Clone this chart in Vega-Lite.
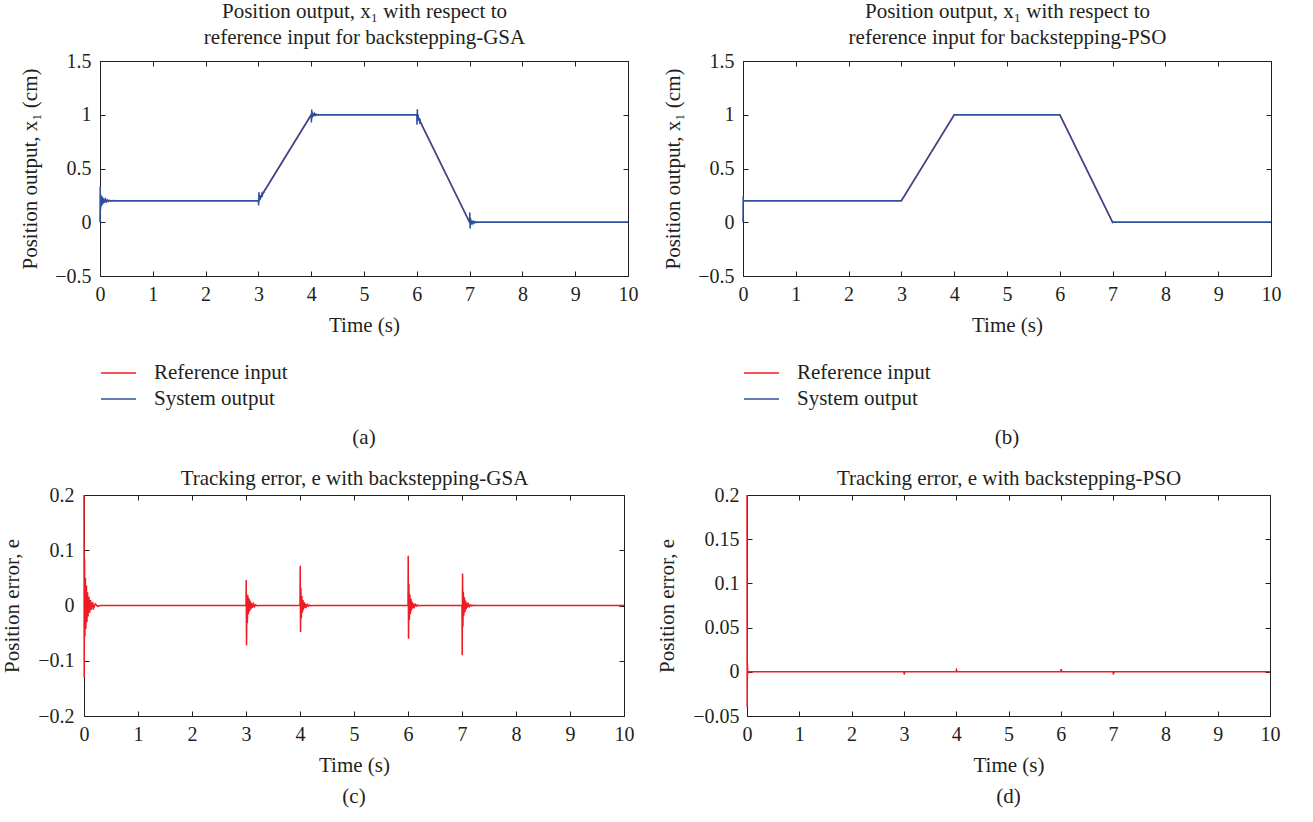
{
  "$schema": "https://vega.github.io/schema/vega-lite/v6.json",
  "background": "white",
  "padding": {"left": 0, "top": 0, "right": 5, "bottom": 5},
  "config": {
    "font": "Liberation Serif",
    "view": {"stroke": "#231f20", "strokeWidth": 1},
    "axis": {
      "grid": false,
      "domain": false,
      "domainColor": "#231f20",
      "domainWidth": 1,
      "labelFont": "Liberation Serif",
      "labelFontSize": 20,
      "labelColor": "#231f20",
      "labelFlush": false,
      "titleFont": "Liberation Serif",
      "titleFontSize": 21,
      "titleFontWeight": "normal",
      "titleColor": "#231f20",
      "titleLineHeight": 26,
      "tickColor": "#231f20",
      "tickSize": -5,
      "tickWidth": 1,
      "format": "~r"
    },
    "title": {"font": "Liberation Serif", "fontSize": 21, "fontWeight": "normal", "color": "#231f20", "anchor": "middle", "frame": "group"},
    "legend": {
      "labelFont": "Liberation Serif",
      "labelFontSize": 21,
      "labelColor": "#231f20",
      "symbolType": "stroke",
      "symbolSize": 1225,
      "symbolStrokeWidth": 1.5,
      "labelOffset": 17,
      "clipHeight": 26,
      "rowPadding": 0,
      "padding": 0
    }
  },
  "datasets": {
    "ref": [
      {"t": 0, "x": 0.2}, {"t": 3, "x": 0.2}, {"t": 4, "x": 1}, {"t": 6, "x": 1}, {"t": 7, "x": 0}, {"t": 10, "x": 0}
    ],
    "gsa": [
      {"t": 0, "x": 0, "e": 0.2},
      {"t": 0.004, "x": 0.33, "e": -0.13},
      {"t": 0.01, "x": 0.116, "e": 0.084},
      {"t": 0.017, "x": 0.256, "e": -0.056},
      {"t": 0.025, "x": 0.15, "e": 0.05},
      {"t": 0.035, "x": 0.242, "e": -0.042},
      {"t": 0.045, "x": 0.164, "e": 0.036},
      {"t": 0.055, "x": 0.23, "e": -0.03},
      {"t": 0.065, "x": 0.176, "e": 0.024},
      {"t": 0.075, "x": 0.22, "e": -0.02},
      {"t": 0.09, "x": 0.184, "e": 0.016},
      {"t": 0.105, "x": 0.213, "e": -0.013},
      {"t": 0.12, "x": 0.19, "e": 0.01},
      {"t": 0.14, "x": 0.208, "e": -0.008},
      {"t": 0.16, "x": 0.194, "e": 0.006},
      {"t": 0.18, "x": 0.2045, "e": -0.0045},
      {"t": 0.21, "x": 0.197, "e": 0.003},
      {"t": 0.25, "x": 0.2015, "e": -0.0015},
      {"t": 0.3, "x": 0.2, "e": 0},
      {"t": 3, "x": 0.2, "e": 0},
      {"t": 3.004, "x": 0.1572, "e": 0.046},
      {"t": 3.01, "x": 0.28, "e": -0.072},
      {"t": 3.017, "x": 0.1936, "e": 0.02},
      {"t": 3.025, "x": 0.252, "e": -0.032},
      {"t": 3.035, "x": 0.21, "e": 0.018},
      {"t": 3.045, "x": 0.252, "e": -0.016},
      {"t": 3.055, "x": 0.231, "e": 0.013},
      {"t": 3.065, "x": 0.263, "e": -0.011},
      {"t": 3.075, "x": 0.251, "e": 0.009},
      {"t": 3.09, "x": 0.279, "e": -0.007},
      {"t": 3.105, "x": 0.279, "e": 0.005},
      {"t": 3.12, "x": 0.3, "e": -0.004},
      {"t": 3.14, "x": 0.309, "e": 0.003},
      {"t": 3.16, "x": 0.33, "e": -0.002},
      {"t": 3.18, "x": 0.3428, "e": 0.0012},
      {"t": 3.21, "x": 0.3686, "e": -0.0006},
      {"t": 3.25, "x": 0.4, "e": 0},
      {"t": 4, "x": 1, "e": 0},
      {"t": 4.004, "x": 0.928, "e": 0.072},
      {"t": 4.01, "x": 1.048, "e": -0.048},
      {"t": 4.017, "x": 0.969, "e": 0.031},
      {"t": 4.025, "x": 1.023, "e": -0.023},
      {"t": 4.035, "x": 0.983, "e": 0.017},
      {"t": 4.045, "x": 1.013, "e": -0.013},
      {"t": 4.055, "x": 0.99, "e": 0.01},
      {"t": 4.065, "x": 1.008, "e": -0.008},
      {"t": 4.075, "x": 0.994, "e": 0.006},
      {"t": 4.09, "x": 1.0045, "e": -0.0045},
      {"t": 4.105, "x": 0.9967, "e": 0.0033},
      {"t": 4.12, "x": 1.0024, "e": -0.0024},
      {"t": 4.14, "x": 0.9984, "e": 0.0016},
      {"t": 4.16, "x": 1.001, "e": -0.001},
      {"t": 4.18, "x": 0.9994, "e": 0.0006},
      {"t": 4.21, "x": 1.0003, "e": -0.0003},
      {"t": 4.25, "x": 1, "e": 0},
      {"t": 6, "x": 1, "e": 0},
      {"t": 6.004, "x": 0.906, "e": 0.09},
      {"t": 6.01, "x": 1.05, "e": -0.06},
      {"t": 6.017, "x": 0.944, "e": 0.039},
      {"t": 6.025, "x": 1.001, "e": -0.026},
      {"t": 6.035, "x": 0.945, "e": 0.02},
      {"t": 6.045, "x": 0.971, "e": -0.016},
      {"t": 6.055, "x": 0.933, "e": 0.012},
      {"t": 6.065, "x": 0.944, "e": -0.009},
      {"t": 6.075, "x": 0.918, "e": 0.007},
      {"t": 6.09, "x": 0.915, "e": -0.005},
      {"t": 6.105, "x": 0.8913, "e": 0.0037},
      {"t": 6.12, "x": 0.8826, "e": -0.0026},
      {"t": 6.14, "x": 0.8582, "e": 0.0018},
      {"t": 6.16, "x": 0.8411, "e": -0.0011},
      {"t": 6.18, "x": 0.8194, "e": 0.0006},
      {"t": 6.21, "x": 0.7903, "e": -0.0003},
      {"t": 6.25, "x": 0.75, "e": 0},
      {"t": 7, "x": 0, "e": 0},
      {"t": 7.004, "x": 0.09, "e": -0.09},
      {"t": 7.01, "x": -0.058, "e": 0.058},
      {"t": 7.017, "x": 0.038, "e": -0.038},
      {"t": 7.025, "x": -0.025, "e": 0.025},
      {"t": 7.035, "x": 0.018, "e": -0.018},
      {"t": 7.045, "x": -0.015, "e": 0.015},
      {"t": 7.055, "x": 0.012, "e": -0.012},
      {"t": 7.065, "x": -0.009, "e": 0.009},
      {"t": 7.075, "x": 0.007, "e": -0.007},
      {"t": 7.09, "x": -0.005, "e": 0.005},
      {"t": 7.105, "x": 0.0037, "e": -0.0037},
      {"t": 7.12, "x": -0.0026, "e": 0.0026},
      {"t": 7.14, "x": 0.0018, "e": -0.0018},
      {"t": 7.16, "x": -0.0011, "e": 0.0011},
      {"t": 7.18, "x": 0.0006, "e": -0.0006},
      {"t": 7.21, "x": -0.0003, "e": 0.0003},
      {"t": 7.25, "x": 0, "e": 0},
      {"t": 10, "x": 0, "e": 0}
    ],
    "pso": [
      {"t": 0, "x": 0, "e": 0.2},
      {"t": 0.003, "x": 0.24, "e": -0.04},
      {"t": 0.008, "x": 0.191, "e": 0.009},
      {"t": 0.015, "x": 0.202, "e": -0.002},
      {"t": 0.03, "x": 0.2, "e": 0},
      {"t": 3, "x": 0.2, "e": 0},
      {"t": 3.005, "x": 0.207, "e": -0.003},
      {"t": 3.02, "x": 0.216, "e": 0},
      {"t": 4, "x": 1, "e": 0},
      {"t": 4.005, "x": 0.998, "e": 0.002},
      {"t": 4.02, "x": 1, "e": 0},
      {"t": 6, "x": 1, "e": 0},
      {"t": 6.005, "x": 0.992, "e": 0.003},
      {"t": 6.02, "x": 0.98, "e": 0},
      {"t": 7, "x": 0, "e": 0},
      {"t": 7.005, "x": 0.003, "e": -0.003},
      {"t": 7.02, "x": 0, "e": 0},
      {"t": 10, "x": 0, "e": 0}
    ]
  },
  "spacing": 18,
  "resolve": {"scale": {"color": "independent"}, "legend": {"color": "independent"}},
  "vconcat": [
    {
      "spacing": 22,
      "resolve": {"scale": {"color": "independent"}, "legend": {"color": "independent"}},
      "hconcat": [
        {
          "width": 528, "height": 215,
          "title": {"text": "(a)", "orient": "bottom", "offset": 15},
          "layer": [
            {
              "data": {"name": "ref"},
              "mark": {"type": "line", "strokeWidth": 1.5},
              "encoding": {
                "x": {"field": "t", "type": "quantitative", "scale": {"domain": [0, 10], "nice": false}, "axis": {"title": "Time (s)", "values": [0,1,2,3,4,5,6,7,8,9,10], "labelPadding": 13, "titlePadding": 10}},
                "y": {"field": "x", "type": "quantitative", "scale": {"domain": [-0.5, 1.5], "nice": false}, "axis": {"title": "Position output, x₁ (cm)", "values": [-0.5, 0, 0.5, 1, 1.5], "labelPadding": 14, "titleX": -60}},
                "color": {"datum": "Reference input", "type": "nominal", "scale": {"domain": ["Reference input", "System output"], "range": ["#ed1c24", "#2e4e9e"]}, "legend": {"orient": "bottom", "direction": "vertical", "title": null, "offset": 25}}
              }
            },
            {
              "data": {"name": "gsa"},
              "mark": {"type": "line", "strokeWidth": 1.5},
              "encoding": {
                "x": {"field": "t", "type": "quantitative", "axis": null},
                "y": {"field": "x", "type": "quantitative", "axis": null},
                "color": {"datum": "System output", "type": "nominal"}
              }
            },
            {
              "data": {"name": "ref"},
              "mark": {"type": "line", "opacity": 0},
              "encoding": {
                "x": {"field": "t", "type": "quantitative", "axis": {"orient": "top", "labels": false, "title": ["Position output, x₁ with respect to", "reference input for backstepping-GSA"], "titlePadding": 13, "values": [0,1,2,3,4,5,6,7,8,9,10]}},
                "y": {"field": "x", "type": "quantitative", "axis": {"orient": "right", "labels": false, "title": null, "values": [-0.5, 0, 0.5, 1, 1.5]}}
              }
            }
          ],
          "resolve": {"axis": {"x": "independent", "y": "independent"}}
        },
        {
          "width": 528, "height": 215,
          "title": {"text": "(b)", "orient": "bottom", "offset": 15},
          "layer": [
            {
              "data": {"name": "ref"},
              "mark": {"type": "line", "strokeWidth": 1.5},
              "encoding": {
                "x": {"field": "t", "type": "quantitative", "scale": {"domain": [0, 10], "nice": false}, "axis": {"title": "Time (s)", "values": [0,1,2,3,4,5,6,7,8,9,10], "labelPadding": 13, "titlePadding": 10}},
                "y": {"field": "x", "type": "quantitative", "scale": {"domain": [-0.5, 1.5], "nice": false}, "axis": {"title": "Position output, x₁ (cm)", "values": [-0.5, 0, 0.5, 1, 1.5], "labelPadding": 14, "titleX": -60}},
                "color": {"datum": "Reference input", "type": "nominal", "scale": {"domain": ["Reference input", "System output"], "range": ["#ed1c24", "#2e4e9e"]}, "legend": {"orient": "bottom", "direction": "vertical", "title": null, "offset": 25}}
              }
            },
            {
              "data": {"name": "pso"},
              "mark": {"type": "line", "strokeWidth": 1.5},
              "encoding": {
                "x": {"field": "t", "type": "quantitative", "axis": null},
                "y": {"field": "x", "type": "quantitative", "axis": null},
                "color": {"datum": "System output", "type": "nominal"}
              }
            },
            {
              "data": {"name": "ref"},
              "mark": {"type": "line", "opacity": 0},
              "encoding": {
                "x": {"field": "t", "type": "quantitative", "axis": {"orient": "top", "labels": false, "title": ["Position output, x₁ with respect to", "reference input for backstepping-PSO"], "titlePadding": 13, "values": [0,1,2,3,4,5,6,7,8,9,10]}},
                "y": {"field": "x", "type": "quantitative", "axis": {"orient": "right", "labels": false, "title": null, "values": [-0.5, 0, 0.5, 1, 1.5]}}
              }
            }
          ],
          "resolve": {"axis": {"x": "independent", "y": "independent"}}
        }
      ]
    },
    {
      "spacing": 15,
      "hconcat": [
        {
          "width": 524, "height": 221,
          "view": {"stroke": null},
          "title": {"text": "(c)", "orient": "bottom", "offset": 11, "dx": -8},
          "data": {"name": "gsa"},
          "layer": [
            {
              "mark": {"type": "line", "strokeWidth": 1.5, "color": "#ed1c24"},
              "encoding": {
                "x": {"field": "t", "type": "quantitative", "scale": {"domain": [0, 10], "nice": false, "range": [-16, 524]}, "axis": {"title": "Time (s)", "domain": true, "values": [0,1,2,3,4,5,6,7,8,9,10], "labelPadding": 13, "titlePadding": 10}},
                "y": {"field": "e", "type": "quantitative", "scale": {"domain": [-0.2, 0.2], "nice": false}, "axis": {"title": "Position error, e", "domain": true, "offset": 16, "values": [-0.2, -0.1, 0, 0.1, 0.2], "labelPadding": 15, "titleX": -62}}
              }
            },
            {
              "mark": {"type": "line", "opacity": 0},
              "encoding": {
                "x": {"field": "t", "type": "quantitative", "axis": {"orient": "top", "domain": true, "labels": false, "title": "Tracking error, e with backstepping-GSA", "titlePadding": 6, "values": [0,1,2,3,4,5,6,7,8,9,10]}},
                "y": {"field": "e", "type": "quantitative", "axis": {"orient": "right", "domain": true, "labels": false, "title": null, "values": [-0.2, -0.1, 0, 0.1, 0.2]}}
              }
            }
          ],
          "resolve": {"axis": {"x": "independent", "y": "independent"}}
        },
        {
          "width": 523, "height": 221,
          "title": {"text": "(d)", "orient": "bottom", "offset": 11},
          "data": {"name": "pso"},
          "layer": [
            {
              "mark": {"type": "line", "strokeWidth": 1.5, "color": "#ed1c24"},
              "encoding": {
                "x": {"field": "t", "type": "quantitative", "scale": {"domain": [0, 10], "nice": false}, "axis": {"title": "Time (s)", "values": [0,1,2,3,4,5,6,7,8,9,10], "labelPadding": 13, "titlePadding": 10}},
                "y": {"field": "e", "type": "quantitative", "scale": {"domain": [-0.05, 0.2], "nice": false}, "axis": {"title": "Position error, e", "values": [-0.05, 0, 0.05, 0.1, 0.15, 0.2], "labelPadding": 13, "titleX": -70}}
              }
            },
            {
              "mark": {"type": "line", "opacity": 0},
              "encoding": {
                "x": {"field": "t", "type": "quantitative", "axis": {"orient": "top", "labels": false, "title": "Tracking error, e with backstepping-PSO", "titlePadding": 6, "values": [0,1,2,3,4,5,6,7,8,9,10]}},
                "y": {"field": "e", "type": "quantitative", "axis": {"orient": "right", "labels": false, "title": null, "values": [-0.05, 0, 0.05, 0.1, 0.15, 0.2]}}
              }
            }
          ],
          "resolve": {"axis": {"x": "independent", "y": "independent"}}
        }
      ]
    }
  ]
}
